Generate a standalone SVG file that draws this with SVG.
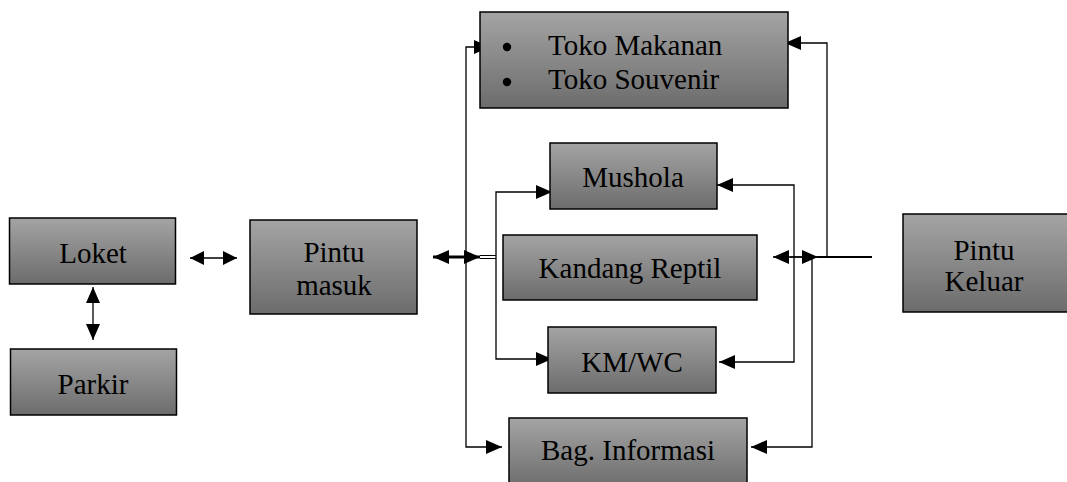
<svg xmlns="http://www.w3.org/2000/svg" width="1067" height="482" viewBox="0 0 1067 482">
<style>
.box{fill:url(#g);stroke:#000;stroke-width:1.5}
.t{font-family:"Liberation Serif","Times New Roman",serif;font-size:29px;fill:#000;text-anchor:middle}
.tl{font-family:"Liberation Serif","Times New Roman",serif;font-size:29px;fill:#000}
.c{fill:none;stroke:#000;stroke-width:1.3}
</style>
<defs>
<linearGradient id="g" x1="0" y1="0" x2="0" y2="1">
<stop offset="0" stop-color="#a4a4a4"/>
<stop offset="1" stop-color="#6c6c6c"/>
</linearGradient>
<marker id="a" markerUnits="userSpaceOnUse" markerWidth="16" markerHeight="14" refX="16" refY="7" orient="auto-start-reverse" viewBox="0 0 16 14">
<path d="M0,0 L16,7 L0,14 z" fill="#000"/>
</marker>
<marker id="s" markerUnits="userSpaceOnUse" markerWidth="14" markerHeight="14" refX="14" refY="7" orient="auto-start-reverse" viewBox="0 0 14 14">
<path d="M0,0 L14,7 L0,14 z" fill="#000"/>
</marker>
</defs>
<g id="connectors">
<path class="c" d="M190,258 L237,258" marker-start="url(#s)" marker-end="url(#s)"/>
<path class="c" d="M93,287 L93,340" marker-start="url(#a)" marker-end="url(#a)"/>
<path class="c" style="stroke-width:3" d="M433,257 L480,257" marker-start="url(#a)" marker-end="url(#a)"/>
<path class="c" style="stroke-width:1" d="M480,255.5 L496,255.5 M480,258.5 L496,258.5"/>
<path class="c" d="M490,47 L466,47 L466,447 L502,447" marker-start="url(#a)" marker-end="url(#a)"/>
<path class="c" d="M552,192 L496,192 L496,359 L552,359" marker-start="url(#a)" marker-end="url(#a)"/>
<path class="c" d="M717,185 L794,185 L794,362 L719,362" marker-start="url(#a)" marker-end="url(#a)"/>
<path class="c" d="M773,257 L818,257" marker-start="url(#a)"/>
<path class="c" style="stroke-width:2" d="M818,257 L872,257"/>
<path class="c" d="M790,257 L818,257" marker-end="url(#a)"/>
<path class="c" d="M812,257 L812,447 L751,447" marker-end="url(#a)"/>
<path class="c" d="M827,257 L827,43 L785,43" marker-end="url(#a)"/>
</g>
<g id="loket"><rect class="box" x="9.5" y="218" width="166" height="66"/><text class="t" x="93" y="263">Loket</text></g>
<g id="parkir"><rect class="box" x="10.5" y="349" width="166" height="66"/><text class="t" x="93" y="394">Parkir</text></g>
<g id="pintu-masuk"><rect class="box" x="250" y="220" width="167" height="94"/><text class="t" x="334" y="262">Pintu</text><text class="t" x="334" y="295">masuk</text></g>
<g id="toko"><rect class="box" x="480" y="12" width="308" height="96"/><circle cx="507" cy="47" r="4.2"/><circle cx="507" cy="82" r="4.2"/><text class="tl" x="548" y="55">Toko Makanan</text><text class="tl" x="548" y="89">Toko Souvenir</text></g>
<g id="mushola"><rect class="box" x="550" y="143" width="167" height="66"/><text class="t" x="633" y="187">Mushola</text></g>
<g id="kandang"><rect class="box" x="503" y="235" width="254" height="65"/><text class="t" x="630" y="278">Kandang Reptil</text></g>
<g id="kmwc"><rect class="box" x="548" y="327" width="168" height="66"/><text class="t" x="632" y="372">KM/WC</text></g>
<g id="informasi"><rect class="box" x="509" y="418" width="238" height="70"/><text class="t" x="628" y="460">Bag. Informasi</text></g>
<g id="pintu-keluar"><rect class="box" x="903" y="214" width="170" height="98"/><text class="t" x="984" y="260">Pintu</text><text class="t" x="984" y="291">Keluar</text></g>
</svg>
